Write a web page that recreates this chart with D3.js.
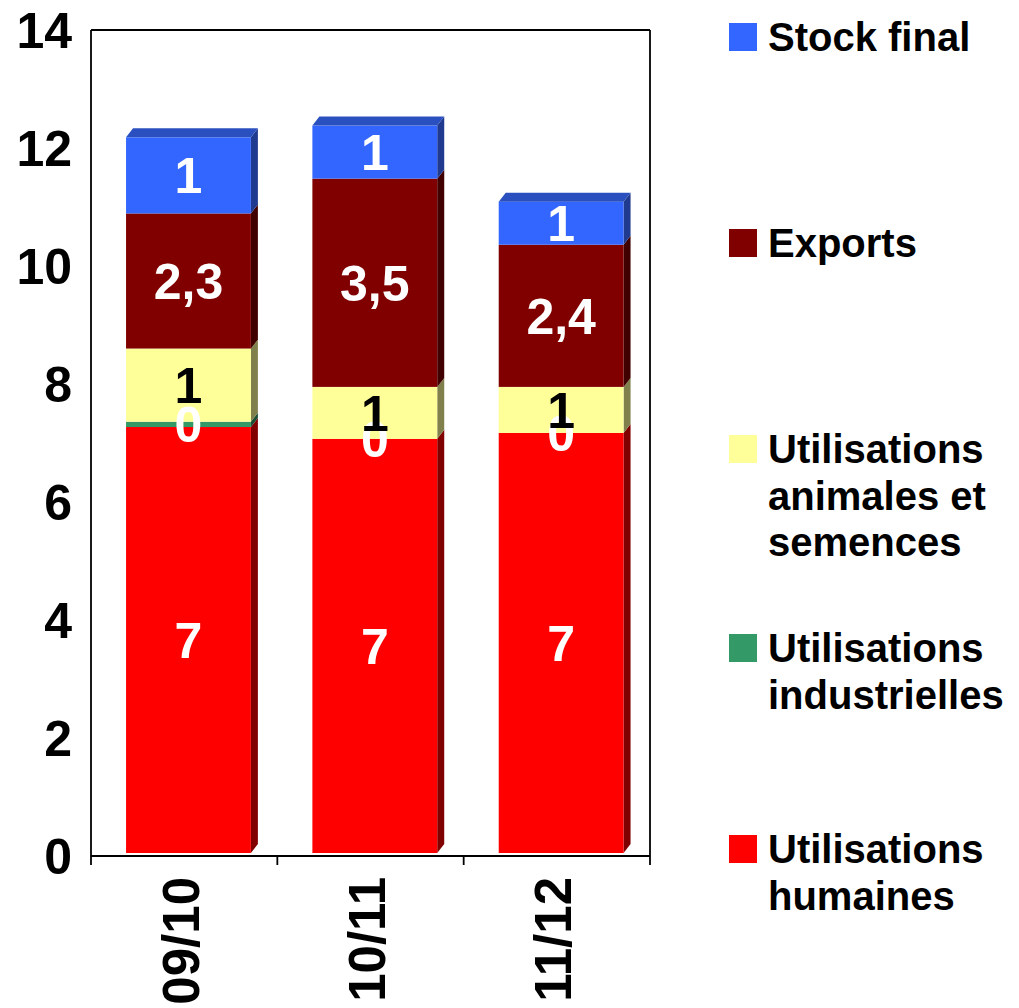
<!DOCTYPE html>
<html>
<head>
<meta charset="utf-8">
<script src="https://cdn.jsdelivr.net/npm/d3@7/dist/d3.min.js"></script>
<style>
  html, body { margin: 0; padding: 0; background: #ffffff; }
  svg { display: block; }
  text { font-family: "Liberation Sans", Arial, Helvetica, sans-serif; font-weight: bold; }
</style>
</head>
<body>
<svg id="chart" width="1019" height="1008"></svg>
<script>
// ---- data ----
const categories = ["09/10", "10/11", "11/12"];
const seriesNames = ["Utilisations humaines", "Utilisations industrielles", "Utilisations animales et semences", "Exports", "Stock final"];
const humaines      = [7.22, 7.02, 7.12];
const industrielles = [0.09, 0.0, 0.0];
const animales      = [1.24, 0.88, 0.78];
const exportsVals   = [2.29, 3.53, 2.41];
const stockFinal    = [1.29, 0.90, 0.73];
const labelsHumaines      = ["7", "7", "7"];
const labelsIndustrielles = ["0", "0", "0"];
const labelsAnimales      = ["1", "1", "1"];
const labelsExports       = ["2,3", "3,5", "2,4"];
const labelsStock         = ["1", "1", "1"];
const yTicks = [0, 2, 4, 6, 8, 10, 12, 14];

// ---- styles ----
const frontColors = ["#FF0000", "#339966", "#FFFF99", "#800000", "#3366FF"];
const sideColors  = ["#800000", "#1A4D33", "#80804D", "#400000", "#1F3A8F"];
const topColors   = ["#CC0000", "#2A7A52", "#CCCC7A", "#660000", "#2A50C0"];
const labelColors = ["#FFFFFF", "#FFFFFF", "#000000", "#FFFFFF", "#FFFFFF"];
const legendLines = [["Utilisations", "humaines"], ["Utilisations", "industrielles"], ["Utilisations", "animales et", "semences"], ["Exports"], ["Stock final"]];

const seriesVals = [humaines, industrielles, animales, exportsVals, stockFinal];
const seriesLabels = [labelsHumaines, labelsIndustrielles, labelsAnimales, labelsExports, labelsStock];

const svg = d3.select("#chart");
const plot = { left: 91, right: 650, top: 30, bottom: 856 };
const depthX = 7, depthY = 9, floor = 3;

const y = d3.scaleLinear().domain([0, 14]).range([plot.bottom, plot.top]);
const xAxisScale = d3.scaleBand().domain(categories).range([plot.left, plot.right]).padding(0);
const xBar = d3.scaleBand().domain(categories).range([plot.left, plot.right])
  .paddingInner(0.33).paddingOuter(0.165).align(0.57);

// stack
const rows = categories.map((c, i) => {
  const r = { cat: c };
  seriesNames.forEach((s, k) => r[s] = seriesVals[k][i]);
  return r;
});
const stacked = d3.stack().keys(seriesNames)(rows);

const yb = v => y(v) - floor;

// bars
const gBars = svg.append("g");
stacked.forEach((layer, k) => {
  const isTop = k === stacked.length - 1;
  layer.forEach((d, i) => {
    const x0 = xBar(categories[i]);
    const x1 = x0 + xBar.bandwidth();
    const yTop = yb(d[1]), yBot = yb(d[0]);
    if (yBot - yTop <= 0.01) return;
    gBars.append("polygon")
      .attr("points", [[x1, yTop], [x1 + depthX, yTop - depthY], [x1 + depthX, yBot - depthY], [x1, yBot]].join(" "))
      .attr("fill", sideColors[k]);
    gBars.append("rect")
      .attr("x", x0).attr("y", yTop)
      .attr("width", x1 - x0).attr("height", yBot - yTop)
      .attr("fill", frontColors[k]);
    if (isTop) {
      gBars.append("polygon")
        .attr("points", [[x0, yTop], [x0 + depthX, yTop - depthY], [x1 + depthX, yTop - depthY], [x1, yTop]].join(" "))
        .attr("fill", topColors[k]);
    }
  });
});

// axes lines & frame
const axisG = svg.append("g").attr("stroke", "#000").attr("stroke-width", 1.8).attr("fill", "none");
axisG.append("line").attr("x1", plot.left).attr("x2", plot.left).attr("y1", plot.top).attr("y2", plot.bottom);
axisG.append("line").attr("x1", plot.left).attr("x2", plot.right).attr("y1", plot.bottom).attr("y2", plot.bottom);
axisG.append("line").attr("x1", plot.left).attr("x2", plot.right).attr("y1", plot.top).attr("y2", plot.top);
axisG.append("line").attr("x1", plot.right).attr("x2", plot.right).attr("y1", plot.top).attr("y2", plot.bottom);
const boundaries = categories.map(c => xAxisScale(c)).concat([plot.right]);
boundaries.forEach(bx => {
  axisG.append("line").attr("x1", bx).attr("x2", bx).attr("y1", plot.bottom).attr("y2", plot.bottom + 9);
});

// y tick labels
svg.append("g").selectAll("text").data(yTicks).join("text")
  .attr("x", 72).attr("y", d => y(d)).attr("dy", "0.36em")
  .attr("text-anchor", "end").attr("font-size", 50).attr("fill", "#000")
  .text(d => d);

// x labels
svg.append("g").selectAll("text").data(categories).join("text")
  .attr("transform", d => `translate(${xAxisScale(d) + xAxisScale.bandwidth() / 2 - 4},877) rotate(-90)`)
  .attr("dy", "0.36em")
  .attr("text-anchor", "end").attr("font-size", 51).attr("fill", "#000")
  .text(d => d);

// data labels
const gLab = svg.append("g");
stacked.forEach((layer, k) => {
  layer.forEach((d, i) => {
    const cx = xBar(categories[i]) + xBar.bandwidth() / 2;
    const cy = (yb(d[0]) + yb(d[1])) / 2;
    gLab.append("text")
      .attr("x", cx).attr("y", cy).attr("dy", "0.36em")
      .attr("text-anchor", "middle").attr("font-size", 50)
      .attr("fill", labelColors[k])
      .text(seriesLabels[k][i]);
  });
});

// legend
const legendY = [849, 648, 449, 243, 37];
const gLeg = svg.append("g");
seriesNames.forEach((s, k) => {
  const cy = legendY[k];
  gLeg.append("rect").attr("x", 729).attr("y", cy - 14).attr("width", 28).attr("height", 28).attr("fill", frontColors[k]);
  const t = gLeg.append("text").attr("x", 768).attr("y", cy + 14).attr("font-size", 40).attr("fill", "#000");
  legendLines[k].forEach((line, j) => {
    t.append("tspan").attr("x", 768).attr("dy", j === 0 ? 0 : 46.5).text(line);
  });
});
</script>
</body>
</html>
